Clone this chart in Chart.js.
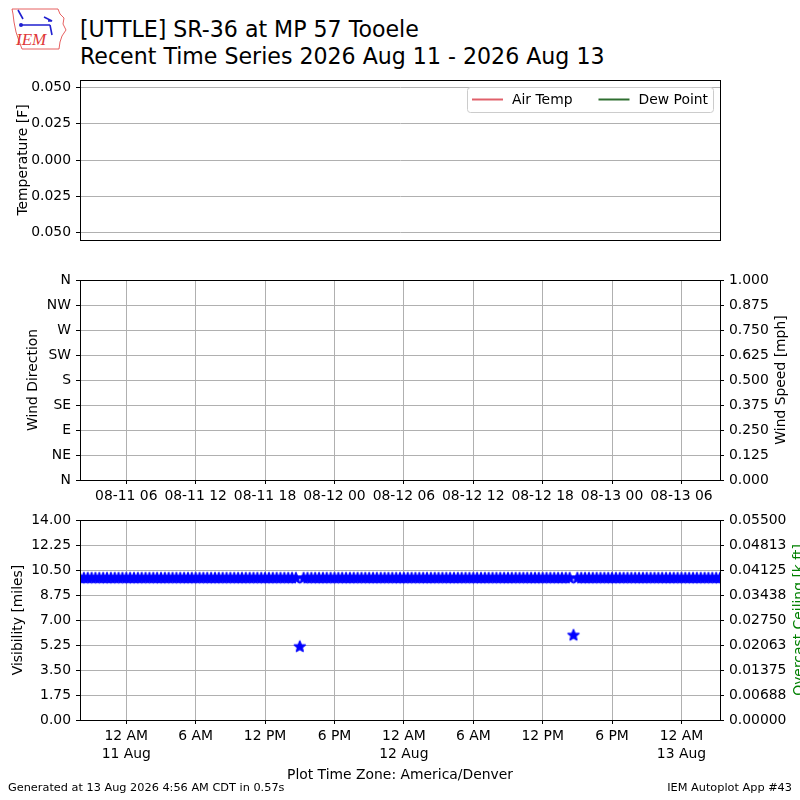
<!DOCTYPE html>
<html>
<head>
<meta charset="utf-8">
<script src="https://cdn.jsdelivr.net/npm/chart.js@4.4.1/dist/chart.umd.min.js"></script>
<style>
  body { margin: 0; background: #fff; }
  #page { position: relative; width: 800px; height: 800px; overflow: hidden; font-family: 'DejaVu Sans', sans-serif; color: #000; }
  #page canvas { position: absolute; left: 0; }
  .title { position: absolute; left: 80px; top: 16px; font-size: 22.1px; line-height: 26.6px; white-space: pre; }
  .foot { position: absolute; top: 781px; font-size: 11.3px; line-height: 14px; white-space: pre; }
</style>
</head>
<body>
<div id="page">
  <svg style="position:absolute;left:8px;top:6px" width="60" height="46" viewBox="0 0 60 46">
    <path d="M4 3 L50 3 L52 8 L56 12 L55 18 L58 24 L54 30 L52 36 L51 43 L14 43 L11 35 L8 26 L6 16 L5 8 Z" fill="none" stroke="#e03838" stroke-width="0.8"/>
    <path d="M14 19 L42 19 M10 4 L15 13 M36 11 L44 15 L40 15 M42 19 L44 29" fill="none" stroke="#2020d0" stroke-width="1.6"/>
    <circle cx="13" cy="19" r="2" fill="#2020d0"/>
    <text x="8" y="39" font-family="Liberation Serif" font-style="italic" font-size="17" fill="#e03838">IEM</text>
  </svg>
  <div class="title">[UTTLE] SR-36 at MP 57 Tooele
Recent Time Series 2026 Aug 11 - 2026 Aug 13</div>
  <canvas id="tempChart" width="800" height="192" style="top:64px"></canvas>
  <canvas id="windChart" width="800" height="246" style="top:264px"></canvas>
  <canvas id="visChart" width="800" height="296" style="top:504px"></canvas>
  <div class="foot" style="left:8px">Generated at 13 Aug 2026 4:56 AM CDT in 0.57s</div>
  <div class="foot" style="right:8px">IEM Autoplot App #43</div>
</div>
<script>
// time axis in minutes from 11 Aug 00:00 America/Denver
const X_MIN = -240;
const X_MAX = 3080;
const xTickMinutes = [0, 360, 720, 1080, 1440, 1800, 2160, 2520, 2880];
const utcTickLabels = ['08-11 06', '08-11 12', '08-11 18', '08-12 00', '08-12 06', '08-12 12', '08-12 18', '08-13 00', '08-13 06'];
const localTickLabels = [['12 AM', '11 Aug'], '6 AM', '12 PM', '6 PM', ['12 AM', '12 Aug'], '6 AM', '12 PM', '6 PM', ['12 AM', '13 Aug']];

const tempTicks = [-0.05, -0.025, 0, 0.025, 0.05];
const tempTickLabels = ['0.050', '0.025', '0.000', '0.025', '0.050'];
const dirTicks = [0, 45, 90, 135, 180, 225, 270, 315, 360];
const dirTickLabels = ['N', 'NE', 'E', 'SE', 'S', 'SW', 'W', 'NW', 'N'];
const speedTicks = [0, 0.125, 0.25, 0.375, 0.5, 0.625, 0.75, 0.875, 1];
const speedTickLabels = ['0.000', '0.125', '0.250', '0.375', '0.500', '0.625', '0.750', '0.875', '1.000'];
const visTicks = [0, 1.75, 3.5, 5.25, 7, 8.75, 10.5, 12.25, 14];
const visTickLabels = ['0.00', '1.75', '3.50', '5.25', '7.00', '8.75', '10.50', '12.25', '14.00'];
const ceilTicks = [0, 0.006875, 0.01375, 0.020625, 0.0275, 0.034375, 0.04125, 0.048125, 0.055];
const ceilTickLabels = ['0.00000', '0.00688', '0.01375', '0.02063', '0.02750', '0.03438', '0.04125', '0.04813', '0.05500'];

// no temperature, wind or ceiling reports in the period
const airTemp = [];
const dewPoint = [];
const windDir = [];
const windSpeed = [];
const ceiling = [];

const obsMinutes = [
  -240, -220, -200, -180, -160, -140, -120, -100, -80, -60, -40, -20,
  0, 20, 40, 60, 80, 100, 120, 140, 160, 180, 200, 220, 240, 260, 280, 300, 320, 340,
  360, 380, 400, 420, 440, 460, 480, 500, 520, 540, 560, 580, 600, 620, 640, 660, 680, 700,
  720, 740, 760, 780, 800, 820, 840, 860, 880, 900, 920, 940, 960, 980, 1000, 1020, 1040, 1060,
  1080, 1100, 1120, 1140, 1160, 1180, 1200, 1220, 1240, 1260, 1280, 1300, 1320, 1340, 1360, 1380, 1400, 1420,
  1440, 1460, 1480, 1500, 1520, 1540, 1560, 1580, 1600, 1620, 1640, 1660, 1680, 1700, 1720, 1740, 1760, 1780,
  1800, 1820, 1840, 1860, 1880, 1900, 1920, 1940, 1960, 1980, 2000, 2020, 2040, 2060, 2080, 2100, 2120, 2140,
  2160, 2180, 2200, 2220, 2240, 2260, 2280, 2300, 2320, 2340, 2360, 2380, 2400, 2420, 2440, 2460, 2480, 2500,
  2520, 2540, 2560, 2580, 2600, 2620, 2640, 2660, 2680, 2700, 2720, 2740, 2760, 2780, 2800, 2820, 2840, 2860,
  2880, 2900, 2920, 2940, 2960, 2980, 3000, 3020, 3040, 3060, 3080,
];
const visibility = [
  10, 10, 10, 10, 10, 10, 10, 10, 10, 10, 10, 10,
  10, 10, 10, 10, 10, 10, 10, 10, 10, 10, 10, 10, 10, 10, 10, 10, 10, 10,
  10, 10, 10, 10, 10, 10, 10, 10, 10, 10, 10, 10, 10, 10, 10, 10, 10, 10,
  10, 10, 10, 10, 10, 10, 10, 10, 10, 5.2, 10, 10, 10, 10, 10, 10, 10, 10,
  10, 10, 10, 10, 10, 10, 10, 10, 10, 10, 10, 10, 10, 10, 10, 10, 10, 10,
  10, 10, 10, 10, 10, 10, 10, 10, 10, 10, 10, 10, 10, 10, 10, 10, 10, 10,
  10, 10, 10, 10, 10, 10, 10, 10, 10, 10, 10, 10, 10, 10, 10, 10, 10, 10,
  10, 10, 10, 10, 10, 10, 10, 10, 6.0, 10, 10, 10, 10, 10, 10, 10, 10, 10,
  10, 10, 10, 10, 10, 10, 10, 10, 10, 10, 10, 10, 10, 10, 10, 10, 10, 10,
  10, 10, 10, 10, 10, 10, 10, 10, 10, 10, 10,
];

const FONT = { family: 'DejaVu Sans', size: 13.9, lineHeight: 1.3 };
const GRID = '#b0b0b0';

function starImage(r, color) {
  const size = Math.ceil(r * 2 + 4);
  const c = document.createElement('canvas');
  c.width = size;
  c.height = size;
  const ctx = c.getContext('2d');
  ctx.fillStyle = color;
  ctx.strokeStyle = color;
  ctx.lineWidth = 1.3;
  ctx.lineJoin = 'round';
  ctx.beginPath();
  for (let i = 0; i < 10; i++) {
    const rad = i % 2 ? r * 0.45 : r;
    const a = -Math.PI / 2 + i * Math.PI / 5;
    ctx.lineTo(size / 2 + rad * Math.cos(a), size / 2 + 1 + rad * Math.sin(a));
  }
  ctx.closePath();
  ctx.fill();
  ctx.stroke();
  return c;
}

function axis(cfg) {
  return {
    type: 'linear',
    display: cfg.display !== false,
    position: cfg.position,
    min: cfg.min,
    max: cfg.max,
    afterBuildTicks: scale => { scale.ticks = cfg.ticks.map(v => ({ value: v })); },
    afterFit: scale => {
      if (cfg.width) scale.width = cfg.width;
      if (cfg.height) scale.height = cfg.height;
    },
    ticks: {
      autoSkip: false,
      maxRotation: 0,
      padding: cfg.labelPad !== undefined ? cfg.labelPad : 5,
      color: '#000',
      font: FONT,
      callback: (value, index) => cfg.labels[index],
    },
    grid: {
      drawOnChartArea: cfg.grid !== false,
      color: GRID,
      lineWidth: 1,
      tickColor: '#000',
      tickLength: 4,
      tickWidth: 1,
    },
    border: { display: true, color: '#000', width: 1 },
    title: cfg.title ? {
      display: true,
      text: cfg.title,
      color: '#000',
      font: FONT,
      padding: cfg.titlePad,
    } : { display: false },
  };
}

// box around the plotting area (top and right spines)
const framePlugin = {
  id: 'frame',
  afterDraw(chart) {
    const { ctx, chartArea: a } = chart;
    ctx.save();
    ctx.strokeStyle = '#000';
    ctx.lineWidth = 1;
    ctx.strokeRect(Math.round(a.left) + 0.5, Math.round(a.top) + 0.5, Math.round(a.width), Math.round(a.height));
    ctx.restore();
  },
};

// right hand axis title, reading bottom to top
const sideTitlePlugin = {
  id: 'sideTitle',
  afterDraw(chart, args, opts) {
    if (!opts || !opts.text) return;
    const s = chart.scales[opts.scale];
    const ctx = chart.ctx;
    ctx.save();
    ctx.translate(s.right - opts.offset, (s.top + s.bottom) / 2);
    ctx.rotate(-Math.PI / 2);
    ctx.font = FONT.size + 'px "DejaVu Sans"';
    ctx.fillStyle = opts.color;
    ctx.textAlign = 'center';
    ctx.textBaseline = 'middle';
    ctx.fillText(opts.text, 0, 0);
    ctx.restore();
  },
};

// legend drawn inside the upper right corner of the plot
const boxLegendPlugin = {
  id: 'boxLegend',
  afterDraw(chart) {
    const { ctx, chartArea: a } = chart;
    const items = chart.data.datasets;
    const handle = 31, gap = 9, colGap = 26, pad = 5, h = 25;
    ctx.save();
    ctx.font = FONT.size + 'px "DejaVu Sans"';
    const widths = items.map(d => ctx.measureText(d.label).width);
    const w = pad * 2 + widths.reduce((s, tw, i) => s + handle + gap + tw + (i ? colGap : 0), 0);
    const right = a.right - 7;
    const top = a.top + 7;
    const left = right - w;
    ctx.beginPath();
    ctx.roundRect(left + 0.5, top + 0.5, w, h, 3);
    ctx.fillStyle = 'rgba(255,255,255,0.8)';
    ctx.fill();
    ctx.strokeStyle = '#cccccc';
    ctx.lineWidth = 1;
    ctx.stroke();
    let x = left + pad;
    const cy = top + h / 2;
    items.forEach((d, i) => {
      ctx.beginPath();
      ctx.moveTo(x, cy);
      ctx.lineTo(x + handle, cy);
      ctx.strokeStyle = d.borderColor;
      ctx.lineWidth = 2;
      ctx.stroke();
      ctx.fillStyle = '#000';
      ctx.textBaseline = 'middle';
      ctx.fillText(d.label, x + handle + gap, cy + 1);
      x += handle + gap + widths[i] + colGap;
    });
    ctx.restore();
  },
};

const xBase = { min: X_MIN, max: X_MAX, ticks: xTickMinutes, position: 'bottom', labelPad: 3 };

new Chart(document.getElementById('tempChart'), {
  type: 'line',
  data: {
    datasets: [
      { label: 'Air Temp', data: airTemp, borderColor: '#e0606a', borderWidth: 2, pointRadius: 0 },
      { label: 'Dew Point', data: dewPoint, borderColor: '#2f6e30', borderWidth: 2, pointRadius: 0 },
    ],
  },
  options: {
    responsive: false,
    animation: false,
    layout: { padding: { top: 16, bottom: 16, left: 0, right: 80 } },
    plugins: { legend: { display: false }, tooltip: { enabled: false } },
    scales: {
      x: axis({ ...xBase, display: false, labels: utcTickLabels }),
      y: axis({
        position: 'left', min: -0.055, max: 0.055, ticks: tempTicks, labels: tempTickLabels,
        width: 80, title: 'Temperature [F]', titlePad: { top: 14.7, bottom: 0 },
      }),
    },
  },
  plugins: [framePlugin, boxLegendPlugin],
});

new Chart(document.getElementById('windChart'), {
  type: 'line',
  data: {
    datasets: [
      { label: 'Wind Direction', data: windDir, yAxisID: 'y', borderColor: '#000', pointRadius: 0 },
      { label: 'Wind Speed', data: windSpeed, yAxisID: 'y1', borderColor: '#000', pointRadius: 0 },
    ],
  },
  options: {
    responsive: false,
    animation: false,
    layout: { padding: { top: 16, bottom: 0, left: 0, right: 0 } },
    plugins: {
      legend: { display: false },
      tooltip: { enabled: false },
      sideTitle: { scale: 'y1', text: 'Wind Speed [mph]', color: '#000', offset: 19 },
    },
    scales: {
      x: axis({ ...xBase, labels: utcTickLabels, height: 30 }),
      y: axis({
        position: 'left', min: 0, max: 360, ticks: dirTicks, labels: dirTickLabels,
        width: 80, title: 'Wind Direction', titlePad: { top: 24.7, bottom: 0 },
      }),
      y1: axis({
        position: 'right', min: 0, max: 1, ticks: speedTicks, labels: speedTickLabels,
        width: 80, grid: false,
      }),
    },
  },
  plugins: [framePlugin, sideTitlePlugin],
});

new Chart(document.getElementById('visChart'), {
  type: 'scatter',
  data: {
    datasets: [
      {
        label: 'Visibility',
        data: obsMinutes.map((m, i) => ({ x: m, y: visibility[i] })),
        yAxisID: 'y',
        pointStyle: starImage(5.8, '#0000ff'),
        pointRadius: 6,
      },
      { label: 'Overcast Ceiling', data: ceiling, yAxisID: 'y1', pointRadius: 0 },
    ],
  },
  options: {
    responsive: false,
    animation: false,
    layout: { padding: { top: 16, bottom: 0, left: 0, right: 0 } },
    plugins: {
      legend: { display: false },
      tooltip: { enabled: false },
      sideTitle: { scale: 'y1', text: 'Overcast Ceiling [k ft]', color: '#008000', offset: 1 },
    },
    scales: {
      x: axis({
        ...xBase, labels: localTickLabels, height: 80,
        title: 'Plot Time Zone: America/Denver', titlePad: { top: 0, bottom: 15.7 },
      }),
      y: axis({
        position: 'left', min: 0, max: 14, ticks: visTicks, labels: visTickLabels,
        width: 80, title: 'Visibility [miles]', titlePad: { top: 9.2, bottom: 0 },
      }),
      y1: axis({
        position: 'right', min: 0, max: 0.055, ticks: ceilTicks, labels: ceilTickLabels,
        width: 80, grid: false,
      }),
    },
  },
  plugins: [framePlugin, sideTitlePlugin],
});
</script>
</body>
</html>
